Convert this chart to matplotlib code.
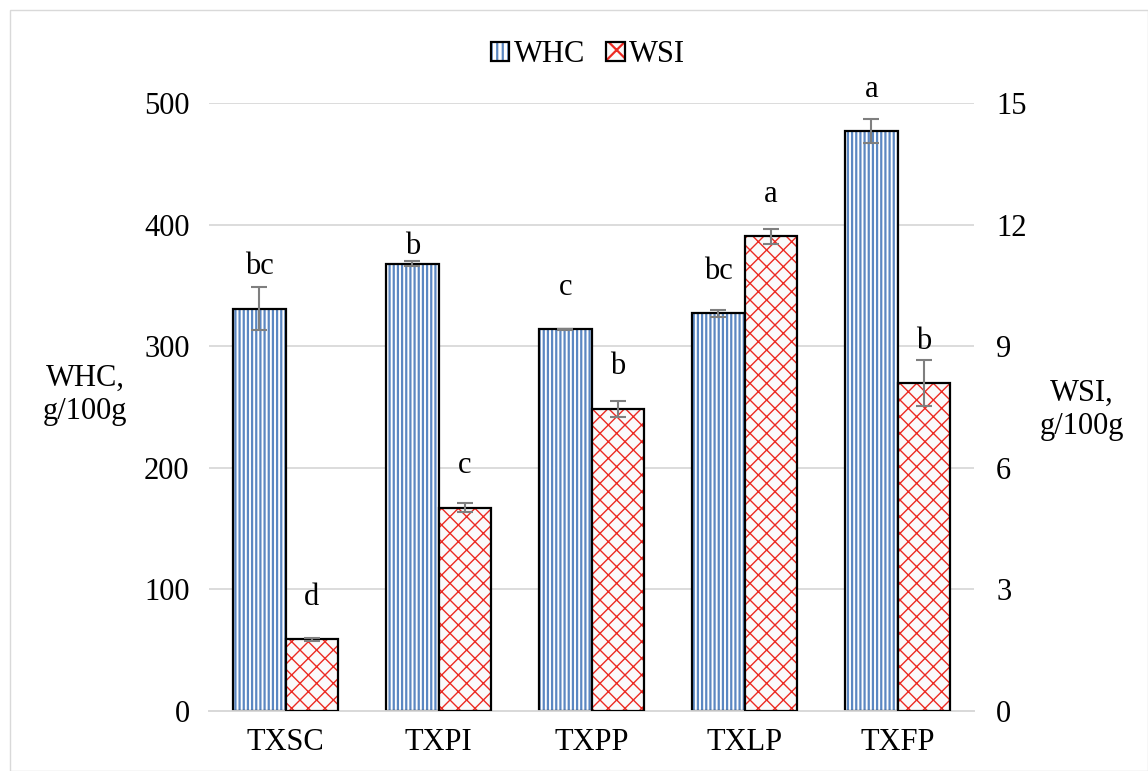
import matplotlib.pyplot as plt
import numpy as np
from matplotlib.patches import Rectangle, Patch

plt.rcParams['font.family'] = ['Liberation Serif', 'DejaVu Serif']
plt.rcParams['hatch.linewidth'] = 1.6

samples = ['TXSC', 'TXPI', 'TXPP', 'TXLP', 'TXFP']
whc = [331, 368, 314, 327, 477]
whc_err = [18, 2, 0.5, 3, 10]
whc_letters = ['bc', 'b', 'c', 'bc', 'a']
wsi = [1.77, 5.02, 7.46, 11.71, 8.10]
wsi_err = [0.04, 0.12, 0.2, 0.19, 0.57]
wsi_letters = ['d', 'c', 'b', 'a', 'b']

# vertical offset (points) of the significance letters above each bar
whc_lift = [30, 12, 30, 30, 30]
wsi_lift = [30, 30, 30, 30, 30]

blue = '#5b87c2'
red = '#ec2a22'
grey = '#7f7f7f'
fs = 22

fig = plt.figure(figsize=(11.48, 7.71), dpi=100)
ax = fig.add_axes([209 / 1148, 1 - 711 / 771, 765 / 1148, 608 / 771])
ax2 = ax.twinx()

x = np.arange(len(samples))
w = 0.34

# WHC on the left axis
ax.bar(x - w / 2, whc, w, color='white', edgecolor=blue, hatch='||||', linewidth=0, zorder=2)
ax.bar(x - w / 2, whc, w, fill=False, edgecolor='black', linewidth=1.6, zorder=3)
ax.errorbar(x - w / 2, whc, yerr=whc_err, fmt='none', ecolor=grey, elinewidth=1.5,
            capsize=6, capthick=1.5, zorder=4)

# WSI on the right axis, thinner lattice lines
with plt.rc_context({'hatch.linewidth': 1.0}):
    ax2.bar(x + w / 2, wsi, w, color='#fafafa', edgecolor=red, hatch='xx', linewidth=0, zorder=2)
ax2.bar(x + w / 2, wsi, w, fill=False, edgecolor='black', linewidth=1.6, zorder=3)
ax2.errorbar(x + w / 2, wsi, yerr=wsi_err, fmt='none', ecolor=grey, elinewidth=1.5,
             capsize=6, capthick=1.5, zorder=4)

for i in range(len(samples)):
    ax.annotate(whc_letters[i], (x[i] - w / 2, whc[i]), xytext=(0, whc_lift[i]),
                textcoords='offset points', ha='center', va='center', fontsize=fs)
    ax2.annotate(wsi_letters[i], (x[i] + w / 2, wsi[i]), xytext=(0, wsi_lift[i]),
                 textcoords='offset points', ha='center', va='center', fontsize=fs)

ax.set_xlim(-0.5, 4.5)
ax.set_ylim(0, 500)
ax2.set_ylim(0, 15)
ax.set_yticks(range(0, 501, 100))
ax2.set_yticks(range(0, 16, 3))
ax.set_xticks(x)
ax.set_xticklabels(samples)

ax.grid(axis='y', color='#d9d9d9', linewidth=1.3, zorder=0)
ax.set_axisbelow(True)
for a in (ax, ax2):
    for s in ('top', 'left', 'right'):
        a.spines[s].set_visible(False)
    a.spines['bottom'].set_color('#d9d9d9')
    a.spines['bottom'].set_linewidth(1.3)
    a.tick_params(length=0, labelsize=fs)
ax.tick_params(axis='y', pad=14)
ax2.tick_params(axis='y', pad=16)
ax.tick_params(axis='x', pad=12)

fig.text(85 / 1148, 1 - 395 / 771, 'WHC,\ng/100g', ha='center', va='center',
         fontsize=fs, linespacing=1.2)
fig.text(1082 / 1148, 1 - 410 / 771, 'WSI,\ng/100g', ha='center', va='center',
         fontsize=fs, linespacing=1.2)

with plt.rc_context({'hatch.linewidth': 1.0}):
    wsi_key = Patch(facecolor='#fafafa', edgecolor=red, hatch='x', linewidth=0)
handles = [(Patch(facecolor='white', edgecolor=blue, hatch='|||', linewidth=0),
            Patch(fill=False, edgecolor='black', linewidth=1.6)),
           (wsi_key, Patch(fill=False, edgecolor='black', linewidth=1.6))]
fig.legend(handles, ['WHC', 'WSI'], loc='center', bbox_to_anchor=(588 / 1148, 1 - 55 / 771),
           ncol=2, frameon=False, fontsize=fs, handlelength=0.6, handleheight=0.6,
           handletextpad=0.15, columnspacing=0.7)

# light frame around the chart area
fig.patches.append(Rectangle((10 / 1148, 0), 1 - 10 / 1148, 1 - 10 / 771, transform=fig.transFigure,
                             fill=False, edgecolor='#d9d9d9', linewidth=1))

fig.savefig('out.png', dpi=100)
